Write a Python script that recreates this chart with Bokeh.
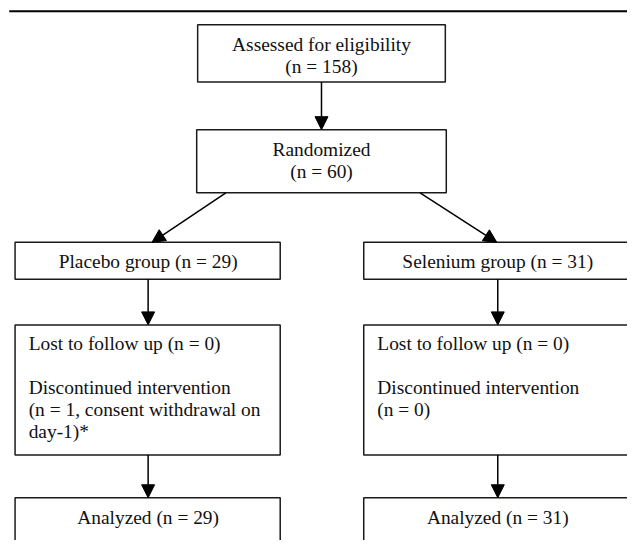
from bokeh.plotting import figure
from bokeh.models import Range1d, Arrow, NormalHead, ColumnDataSource
from bokeh.embed import file_html
from bokeh.resources import INLINE
from bokeh.core.properties import value

# ---- chart content (CONSORT flow) ----
stages = ["Assessed for eligibility", "Randomized"]
stage_n = [158, 60]
groups = ["Placebo group", "Selenium group"]
group_n = [29, 31]
lost_n = [0, 0]
discontinued_text = [["(n = 1, consent withdrawal on", "day-1)*"], ["(n = 0)"]]
analyzed_n = [29, 31]

# ---- layout (reference pixel coordinates, scaled to fit) ----
FONT = "Liberation Serif"
FS = "19.4px"
TXT = "#111111"
LINE = "#1a1a1a"

W, H = 627, 540
SCALE = H / 556.0
stage_boxes = [(203, 458, 25, 84), (202, 459, 133, 198)]   # left, right, top, bottom
col_left = [15, 374]
col_right = [288, 680]
col_cx = [152, 512]
group_box_y = (249, 287)
lost_box_y = (334, 468)
anal_box_y = (512, 620)
text_pad = 14

p = figure(width=W, height=H, x_range=Range1d(0, W / SCALE), y_range=Range1d(556, 0),
           output_backend="svg", toolbar_location=None, min_border=0)
p.axis.visible = False
p.grid.visible = False
p.outline_line_color = None
p.background_fill_color = "white"

# top rule
p.segment(x0=[9], y0=[11], x1=[680], y1=[11], line_color="black", line_width=2)

# boxes
L, R, T, B = [], [], [], []
for (l, r, t, b) in stage_boxes:
    L.append(l); R.append(r); T.append(t); B.append(b)
for yy in (group_box_y, lost_box_y, anal_box_y):
    for i in range(2):
        L.append(col_left[i]); R.append(col_right[i]); T.append(yy[0]); B.append(yy[1])
p.quad(left=L, right=R, top=T, bottom=B, fill_color="white", line_color=LINE, line_width=1.5)

# centred texts
cx, cy, ct = [], [], []
for (l, r, t, b), s, n in zip(stage_boxes, stages, stage_n):
    mid = (l + r) / 2
    cx += [mid, mid]
    cy += [t + 20, t + 43]
    ct += [s, f"(n = {n})"]
gmid = sum(group_box_y) / 2
for i in range(2):
    cx.append(col_cx[i]); cy.append(gmid + 1); ct.append(f"{groups[i]} (n = {group_n[i]})")
    cx.append(col_cx[i]); cy.append(anal_box_y[0] + 20); ct.append(f"Analyzed (n = {analyzed_n[i]})")
p.text(x=cx, y=cy, text=ct, text_font=value(FONT), text_font_size=FS, text_color=TXT,
       text_align="center", text_baseline="middle")

# left-aligned texts in the follow-up boxes
lx, ly, lt = [], [], []
for i in range(2):
    x0 = col_left[i] + text_pad
    lines = [f"Lost to follow up (n = {lost_n[i]})", "", "Discontinued intervention"] + discontinued_text[i]
    y0 = lost_box_y[0] + 19
    for k, s in enumerate(lines):
        if s:
            lx.append(x0); ly.append(y0 + k * 22.7); lt.append(s)
p.text(x=lx, y=ly, text=lt, text_font=value(FONT), text_font_size=FS, text_color=TXT,
       text_align="left", text_baseline="middle")

# arrows
arr = ColumnDataSource(dict(
    x0=[330.5, 232, 432, col_cx[0], col_cx[0], col_cx[1], col_cx[1]],
    y0=[84, 198, 198, group_box_y[1], lost_box_y[1], group_box_y[1], lost_box_y[1]],
    x1=[330.5, 156, 511, col_cx[0], col_cx[0], col_cx[1], col_cx[1]],
    y1=[133, 249, 249, lost_box_y[0], anal_box_y[0], lost_box_y[0], anal_box_y[0]],
))
p.add_layout(Arrow(end=NormalHead(size=13, fill_color="black", line_color="black", line_width=1),
                   x_start="x0", y_start="y0", x_end="x1", y_end="y1", source=arr,
                   line_color="black", line_width=1.5))

open("out.html", "w").write(file_html(p, INLINE))
